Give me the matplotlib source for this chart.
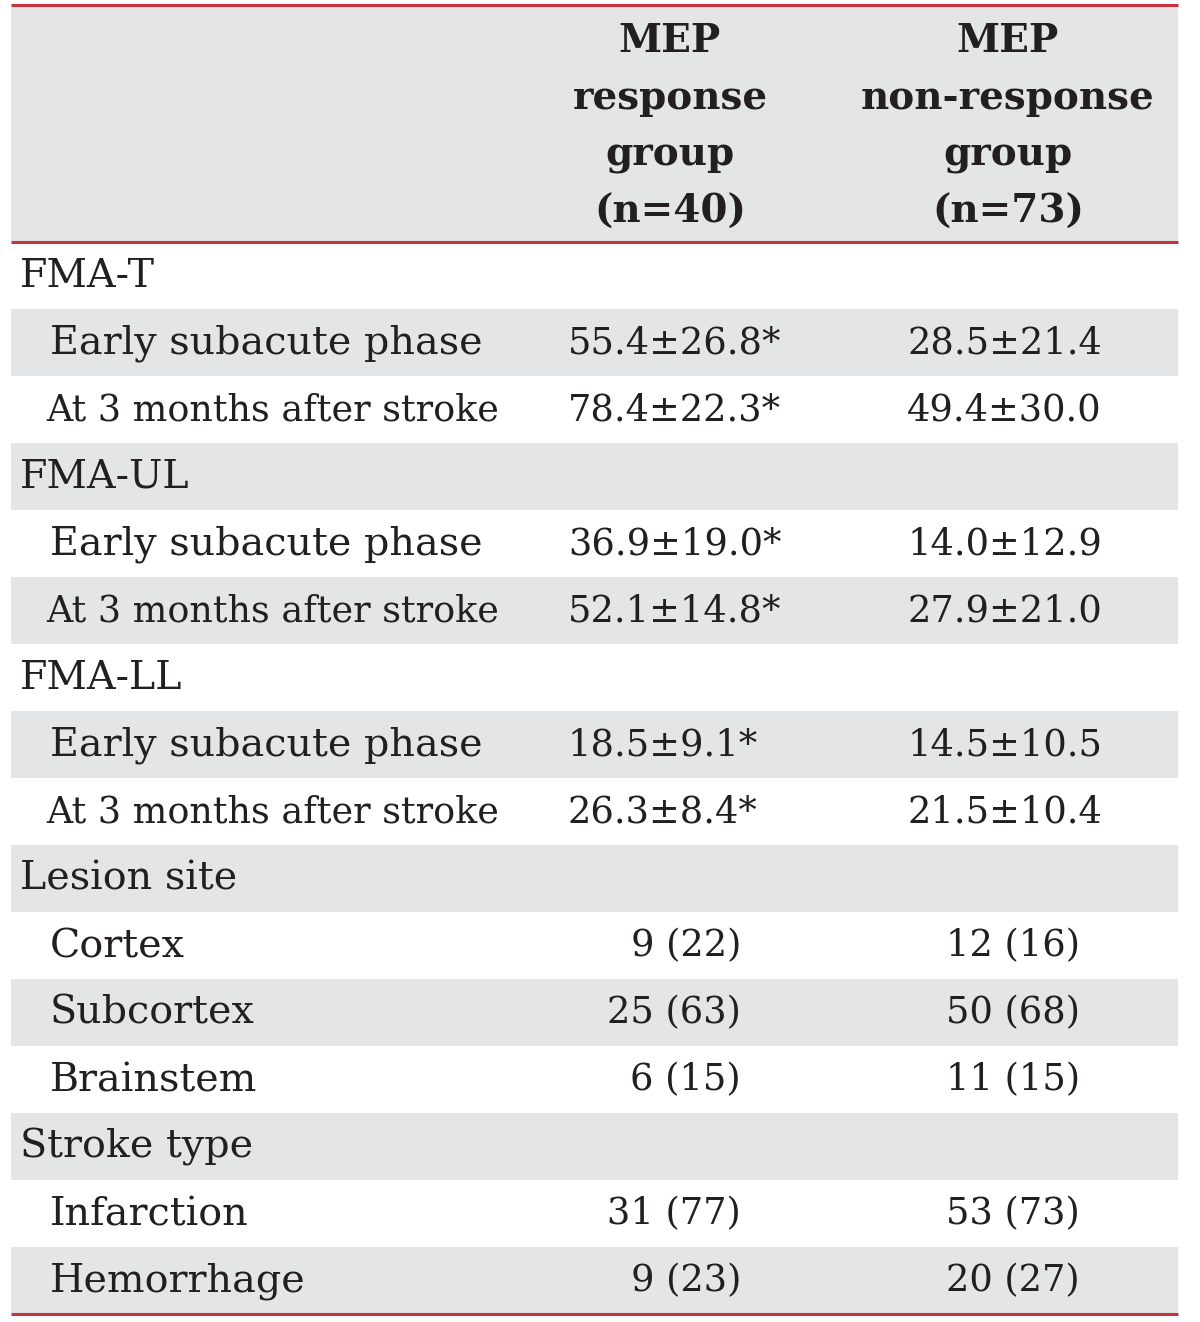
import matplotlib
matplotlib.use("Agg")
import matplotlib.pyplot as plt
from matplotlib.patches import Rectangle

# 表のデータ
header_col2 = ["MEP", "response", "group", "(n=40)"]
header_col3 = ["MEP", "non-response", "group", "(n=73)"]

row_labels = [
    "FMA-T", "Early subacute phase", "At 3 months after stroke",
    "FMA-UL", "Early subacute phase", "At 3 months after stroke",
    "FMA-LL", "Early subacute phase", "At 3 months after stroke",
    "Lesion site", "Cortex", "Subcortex", "Brainstem",
    "Stroke type", "Infarction", "Hemorrhage",
]
is_group = [True, False, False, True, False, False, True, False, False,
            True, False, False, False, True, False, False]
col_response = [
    "", "55.4±26.8*", "78.4±22.3*",
    "", "36.9±19.0*", "52.1±14.8*",
    "", "18.5±9.1*", "26.3±8.4*",
    "", "9 (22)", "25 (63)", "6 (15)",
    "", "31 (77)", "9 (23)",
]
col_nonresponse = [
    "", "28.5±21.4", "49.4±30.0",
    "", "14.0±12.9", "27.9±21.0",
    "", "14.5±10.5", "21.5±10.4",
    "", "12 (16)", "50 (68)", "11 (15)",
    "", "53 (73)", "20 (27)",
]

GRAY = "#e4e5e7"
RED = "#c8323c"
TXT = "#231f20"
FONT = ["DejaVu Serif"]
FS_LAB = 28.5
FS_HEAD = 28
FS_NUM = 26.5

fig = plt.figure(figsize=(12, 13.22), dpi=100)
ax = fig.add_axes([0, 0, 1, 1])
ax.set_xlim(0, 1200)
ax.set_ylim(1322, 0)
ax.axis("off")

left, right = 11, 1178
head_top, head_bot = 5, 242
row_h = 67.0

# ヘッダー
ax.add_patch(Rectangle((left, head_top), right - left, head_bot - head_top,
                       facecolor=GRAY, edgecolor="none"))
for i, (a, b) in enumerate(zip(header_col2, header_col3)):
    y = 41 + i * 57
    ax.text(670, y, a, ha="center", va="center", fontsize=FS_HEAD, fontweight="bold",
            family=FONT, color=TXT)
    ax.text(1008, y, b, ha="center", va="center", fontsize=FS_HEAD, fontweight="bold",
            family=FONT, color=TXT)

# 本体
for i, lab in enumerate(row_labels):
    top = head_bot + i * row_h
    yc = top + row_h / 2 + 1
    if i % 2 == 1:
        ax.add_patch(Rectangle((left, top), right - left, row_h,
                               facecolor=GRAY, edgecolor="none"))
    x = 20 if is_group[i] else 50
    fs = FS_LAB
    if lab.startswith("At 3"):
        x = 46
        fs = 26.3
    ax.text(x, yc, lab, ha="left", va="center", fontsize=fs, family=FONT, color=TXT)
    v2, v3 = col_response[i], col_nonresponse[i]
    if "±" in v2:
        ax.text(568, yc, v2, ha="left", va="center", fontsize=FS_NUM, family=FONT, color=TXT)
        ax.text(907, yc, v3, ha="left", va="center", fontsize=FS_NUM, family=FONT, color=TXT)
    elif v2:
        ax.text(741, yc, v2, ha="right", va="center", fontsize=FS_NUM, family=FONT, color=TXT)
        ax.text(1080, yc, v3, ha="right", va="center", fontsize=FS_NUM, family=FONT, color=TXT)

bottom = head_bot + len(row_labels) * row_h
for y in [head_top, head_bot, bottom]:
    ax.plot([left, right], [y, y], color=RED, lw=2.2, solid_capstyle="butt")

fig.savefig("out.png", dpi=100, facecolor="white")
